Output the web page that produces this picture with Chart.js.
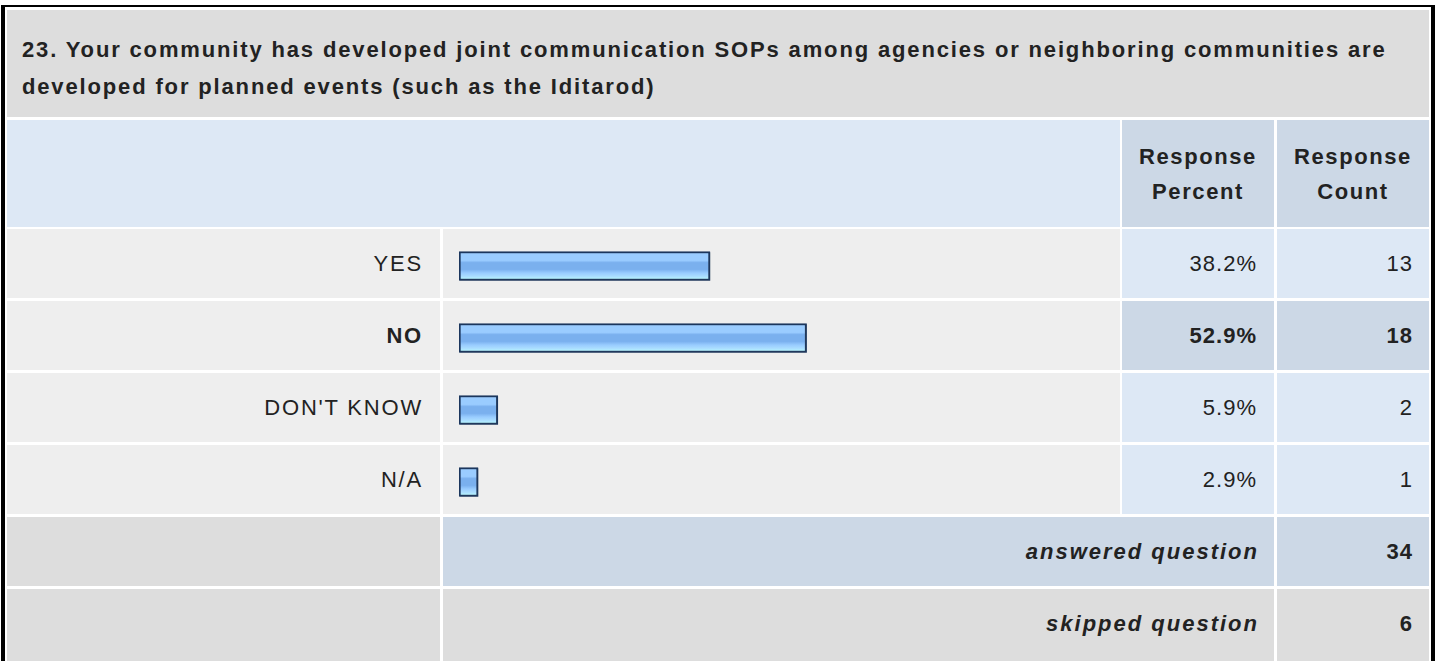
<!DOCTYPE html>
<html>
<head>
<meta charset="utf-8">
<script src="https://cdn.jsdelivr.net/npm/chart.js@4/dist/chart.umd.min.js"></script>
<style>
body { margin: 0; background: #fff; font-family: "Liberation Sans", Arial, sans-serif; }
#page { position: relative; width: 1438px; height: 661px; overflow: hidden; }
#frame { position: absolute; left: 1px; top: 5px; width: 1426px; height: 700px;
  border-top: 2px solid #000; border-left: 4px solid #000; border-right: 4px solid #000; }
.cell { position: absolute; box-sizing: border-box; font-size: 22px; letter-spacing: 1px; color: #222;
  display: flex; align-items: center; }
.r { justify-content: flex-end; padding-right: 17px; }
.b { font-weight: bold; }
.i { font-style: italic; letter-spacing: 2px; }
.lbl { letter-spacing: 1.8px; }
.grey { background: #dddddd; }
.light { background: #eeeeee; }
.blue { background: #dde8f5; }
.blue2 { background: #ccd8e6; }
#title { left: 7px; top: 10px; width: 1422px; height: 107px; padding: 21px 15px 0 15px; line-height: 37px;
  font-weight: bold; letter-spacing: 1.85px; display: block; }
#chartBox { position: absolute; left: 443px; top: 230px; width: 677px; height: 288px; }
</style>
</head>
<body>
<div id="page">
  <div id="frame"></div>
  <div id="title" class="cell grey">23. Your community has developed joint communication SOPs among agencies or neighboring communities are developed for planned events (such as the Iditarod)</div>
  <div id="rows"></div>
  <div id="chartBox"><canvas id="myChart"></canvas></div>
</div>
<script>
var answerLabels = ['YES', 'NO', "DON'T KNOW", 'N/A'];
var responsePercent = [38.2, 52.9, 5.9, 2.9];
var responseCount = [13, 18, 2, 1];
var headerPercent = ['Response', 'Percent'];
var headerCount = ['Response', 'Count'];
var answeredCount = 34;
var skippedCount = 6;

var cols = [[7, 440], [443, 1120], [1122, 1274], [1277, 1429]];
var rowsBox = document.getElementById('rows');

function addCell(x1, x2, y1, y2, cls, html) {
    var d = document.createElement('div');
    d.className = 'cell ' + cls;
    d.style.left = x1 + 'px';
    d.style.top = y1 + 'px';
    d.style.width = (x2 - x1) + 'px';
    d.style.height = (y2 - y1) + 'px';
    if (html != null) d.innerHTML = html;
    rowsBox.appendChild(d);
    return d;
}

// header
addCell(cols[0][0], cols[1][1], 120, 227, 'blue');
var hp = addCell(cols[2][0], cols[2][1], 120, 227, 'blue2 b', headerPercent.join('<br>'));
hp.style.justifyContent = 'center'; hp.style.textAlign = 'center'; hp.style.lineHeight = '35px'; hp.style.letterSpacing = '1.6px';
var hc = addCell(cols[3][0], cols[3][1], 120, 227, 'blue2 b', headerCount.join('<br>'));
hc.style.justifyContent = 'center'; hc.style.textAlign = 'center'; hc.style.lineHeight = '35px'; hc.style.letterSpacing = '1.6px';

// answer rows
var maxIdx = responsePercent.indexOf(Math.max.apply(null, responsePercent));
for (let i = 0; i < answerLabels.length; i++) {
    var y1 = 229 + i * 72, y2 = y1 + 69;
    var bold = i == maxIdx ? ' b' : '';
    addCell(cols[0][0], cols[0][1], y1, y2, 'light r lbl' + bold, answerLabels[i]).style.paddingRight = '17px';
    addCell(cols[1][0], cols[1][1], y1, y2, 'light');
    var bg = i == maxIdx ? 'blue2' : 'blue';
    addCell(cols[2][0], cols[2][1], y1, y2, bg + ' r' + bold, responsePercent[i].toFixed(1) + '%');
    addCell(cols[3][0], cols[3][1], y1, y2, bg + ' r' + bold, String(responseCount[i])).style.paddingRight = '16px';
}

// totals
addCell(cols[0][0], cols[0][1], 517, 586, 'grey');
addCell(cols[1][0], cols[2][1], 517, 586, 'blue2 r b i', 'answered question').style.paddingRight = '15px';
addCell(cols[3][0], cols[3][1], 517, 586, 'blue2 r b', String(answeredCount)).style.paddingRight = '16px';
addCell(cols[0][0], cols[0][1], 589, 661, 'grey');
addCell(cols[1][0], cols[2][1], 589, 661, 'grey r b i', 'skipped question').style.cssText += 'padding-right:15px;padding-bottom:3px;';
addCell(cols[3][0], cols[3][1], 589, 661, 'grey r b', String(skippedCount)).style.cssText += 'padding-right:16px;padding-bottom:3px;';

function barFill(context) {
    var chart = context.chart;
    var yScale = chart.scales.y;
    if (!chart.chartArea || !yScale) return '#88bbf5';
    var y = yScale.getPixelForValue(context.dataIndex);
    var g = chart.ctx.createLinearGradient(0, y - 14, 0, y + 14);
    g.addColorStop(0, '#9accff');
    g.addColorStop(0.3, '#9accff');
    g.addColorStop(0.38, '#7ab0ee');
    g.addColorStop(0.62, '#7ab0ee');
    g.addColorStop(0.75, '#99ccff');
    g.addColorStop(0.87, '#aaddff');
    g.addColorStop(1, '#bbffff');
    return g;
}

var shadow = {
    id: 'shadow',
    beforeDatasetsDraw: function(chart) {
        var ctx = chart.ctx;
        ctx.save();
        ctx.shadowColor = 'rgba(40, 60, 90, 0.55)';
        ctx.shadowOffsetX = 1;
        ctx.shadowOffsetY = 1;
        ctx.shadowBlur = 0;
    },
    afterDatasetsDraw: function(chart) {
        chart.ctx.restore();
    }
};

var ctx = document.getElementById('myChart').getContext('2d');
var chart = new Chart(ctx, {
    type: 'bar',
    data: {
        labels: answerLabels,
        datasets: [{
            label: 'Response Percent',
            data: responsePercent,
            backgroundColor: barFill,
            borderColor: '#1b365d',
            borderWidth: 2,
            borderSkipped: false,
            barThickness: 29
        }]
    },
    options: {
        indexAxis: 'y',
        responsive: true,
        maintainAspectRatio: false,
        animation: false,
        layout: { padding: { left: 16, right: 4, top: 0, bottom: 0 } },
        scales: {
            x: { display: false, min: 0, max: 100 },
            y: { display: false }
        },
        plugins: { legend: { display: false }, tooltip: { enabled: false } }
    },
    plugins: [shadow]
});
</script>
</body>
</html>
